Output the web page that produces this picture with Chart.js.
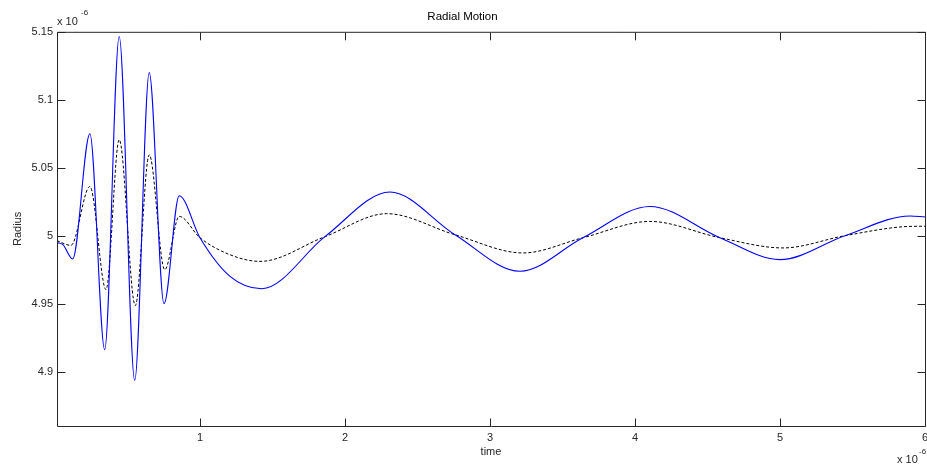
<!DOCTYPE html>
<html>
<head>
<meta charset="utf-8">
<script src="https://cdn.jsdelivr.net/npm/chart.js@4"></script>
<style>
  body { margin: 0; background: #fff; }
  canvas { display: block; }
</style>
</head>
<body>
<canvas id="myChart" width="927" height="464"></canvas>
<script>
// time (x 10^-6) and radius (x 10^-6)
const timeSolid = [0.014, 0.055, 0.122, 0.241, 0.343, 0.443, 0.550, 0.650, 0.752, 0.857, 1.0, 1.207, 1.426, 1.862, 2.310, 2.759, 3.207, 3.641, 4.103, 4.586, 5.0, 5.448, 5.897, 6.0];
const radiusSolid = [4.9949, 4.9934, 4.9829, 5.0750, 4.9162, 5.1465, 4.8936, 5.1200, 4.9500, 5.0294, 4.9985, 4.9701, 4.9610, 4.9993, 5.0321, 5.0007, 4.9738, 4.9985, 5.0215, 4.9985, 4.9824, 5.0000, 5.0145, 5.0138];

const timeDotted = [0.014, 0.110, 0.241, 0.352, 0.443, 0.554, 0.650, 0.757, 0.857, 1.0, 1.207, 1.414, 1.862, 2.288, 2.759, 3.228, 3.641, 4.103, 4.586, 5.021, 5.448, 5.85, 6.0];
const radiusDotted = [4.9963, 4.9929, 5.0362, 4.9603, 5.0706, 4.9486, 5.0595, 4.9750, 5.0142, 4.9985, 4.9860, 4.9811, 4.9993, 5.0162, 5.0007, 4.9873, 4.9985, 5.0105, 4.9985, 4.9910, 5.0000, 5.0066, 5.0070];

const xTicks = [1, 2, 3, 4, 5, 6];
const yTicks = [4.9, 4.95, 5, 5.05, 5.1, 5.15];

const fontFamily = '"Liberation Sans", Arial, sans-serif';
const inkColor = '#262626';

function toPoints(xs, ys) {
  return xs.map((x, i) => ({ x: x, y: ys[i] }));
}

// MATLAB-style box with inward ticks and the x 10^-6 exponent labels
const matlabFrame = {
  id: 'matlabFrame',
  afterDraw(chart) {
    const { ctx, chartArea: a, scales } = chart;
    const L = a.left + 0.5, R = a.right + 0.5, T = a.top + 0.5, B = a.bottom + 0.5;
    const len = 8;
    ctx.save();
    ctx.strokeStyle = inkColor;
    ctx.lineWidth = 1;
    ctx.beginPath();
    ctx.moveTo(L, T); ctx.lineTo(R, T); ctx.lineTo(R, B); ctx.lineTo(L, B); ctx.closePath();
    xTicks.forEach(v => {
      const px = Math.round(scales.x.getPixelForValue(v)) + 0.5;
      ctx.moveTo(px, B); ctx.lineTo(px, B - len);
      ctx.moveTo(px, T); ctx.lineTo(px, T + len);
    });
    yTicks.forEach(v => {
      const py = Math.round(scales.y.getPixelForValue(v)) + 0.5;
      ctx.moveTo(L, py); ctx.lineTo(L + len, py);
      ctx.moveTo(R, py); ctx.lineTo(R - len, py);
    });
    ctx.stroke();

    ctx.fillStyle = inkColor;
    ctx.textBaseline = 'alphabetic';
    ctx.textAlign = 'left';
    ctx.font = '11px ' + fontFamily;
    ctx.fillText('x 10', 57, 25);
    ctx.fillText('x 10', 897, 463);
    ctx.font = '8px ' + fontFamily;
    ctx.fillText('-6', 81, 15);
    ctx.fillText('-6', 919, 454);
    ctx.restore();
  }
};

const data = {
  datasets: [
    {
      label: 'Radius',
      data: toPoints(timeSolid, radiusSolid),
      borderColor: 'rgb(0, 0, 255)',
      borderWidth: 1.1,
      pointRadius: 0,
      cubicInterpolationMode: 'monotone'
    },
    {
      label: 'Radius (dotted)',
      data: toPoints(timeDotted, radiusDotted),
      borderColor: '#000',
      borderWidth: 1,
      borderDash: [3, 2],
      pointRadius: 0,
      cubicInterpolationMode: 'monotone'
    }
  ]
};

const config = {
  type: 'line',
  data: data,
  options: {
    responsive: false,
    animation: false,
    layout: { padding: { left: 0, right: 2, top: 0, bottom: 0 } },
    scales: {
      x: {
        type: 'linear',
        min: 0.014,
        max: 6,
        afterFit: s => { s.height = 38; s.paddingLeft = 0; s.paddingRight = 0; },
        afterBuildTicks: s => { s.ticks = xTicks.map(v => ({ value: v })); },
        grid: { display: false, drawTicks: false },
        border: { display: false },
        ticks: {
          autoSkip: false,
          maxRotation: 0,
          padding: 5,
          color: inkColor,
          font: { family: fontFamily, size: 11 },
          callback: v => String(v)
        },
        title: {
          display: true,
          text: 'time',
          color: inkColor,
          font: { family: fontFamily, size: 11 },
          padding: { top: 0, bottom: 5 }
        }
      },
      y: {
        type: 'linear',
        min: 4.86,
        max: 5.15,
        afterFit: s => { s.width = 57; s.paddingTop = 0; s.paddingBottom = 0; },
        afterBuildTicks: s => { s.ticks = yTicks.map(v => ({ value: v })); },
        grid: { display: false, drawTicks: false },
        border: { display: false },
        ticks: {
          autoSkip: false,
          padding: 4,
          color: inkColor,
          font: { family: fontFamily, size: 11 },
          callback: v => String(v)
        },
        title: {
          display: true,
          text: 'Radius',
          color: inkColor,
          font: { family: fontFamily, size: 11 },
          padding: { top: 11, bottom: 0 }
        }
      }
    },
    plugins: {
      legend: { display: false },
      tooltip: { enabled: false },
      title: {
        display: true,
        text: 'Radial Motion',
        color: '#000',
        font: { family: fontFamily, size: 11.5, weight: 'normal' },
        padding: { top: 10, bottom: 8 }
      }
    }
  },
  plugins: [matlabFrame]
};

const ctx = document.getElementById('myChart').getContext('2d');
const chart = new Chart(ctx, config);
</script>
</body>
</html>
